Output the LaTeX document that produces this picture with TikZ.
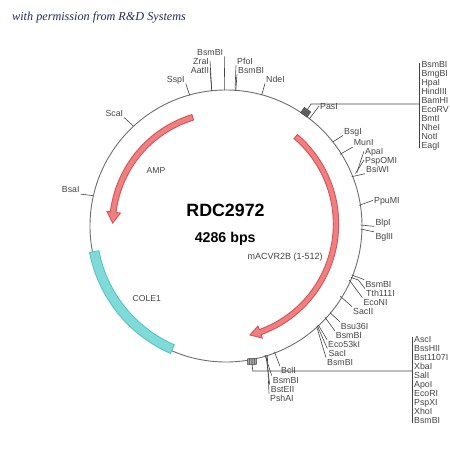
\documentclass[tikz,border=0pt]{standalone}
\usepackage{fontspec}
\usetikzlibrary{calc}
\setmainfont{Liberation Sans}
\newfontfamily\capfont{Liberation Serif}
\definecolor{inkc}{HTML}{444444}
\definecolor{ringc}{HTML}{6E6E6E}
\definecolor{capc}{HTML}{1F2D5C}
\definecolor{redf}{HTML}{EE8080}
\definecolor{redd}{HTML}{DD4F55}
\definecolor{cyanf}{HTML}{7FDAD8}
\definecolor{cyand}{HTML}{55C6C6}
\newcommand{\site}[5]{%
  \coordinate (#1-r) at (#2);
  \node[sitelabel,xshift=-1pt] (#1) at (#3) {#5};
  \draw[siteline] (#1-r) -- (#1.#4);}
\newcommand{\listlabel}[3]{\node[sitelabel,xshift=-1pt] (#1) at (#2) {#3};}
\tikzset{
  sitelabel/.style={anchor=west,font=\fontsize{8.8}{9}\selectfont,text=inkc,inner xsep=1pt,inner ysep=1pt,text height=6.4pt,text depth=0pt},
  siteline/.style={draw=inkc,line width=0.6pt},
  ringline/.style={draw=ringc,line width=0.9pt},
  redarc/.style={fill=redf,draw=redd,line width=0.9pt,line join=miter},
  cyanarc/.style={fill=cyanf,draw=cyand,line width=0.9pt},
  plainlabel/.style={font=\fontsize{8.6}{9}\selectfont,text=inkc,inner sep=0pt}
}
\begin{document}
\begin{tikzpicture}[x=1pt,y=-1pt]
\useasboundingbox (0,0) rectangle (450,450);
\coordinate (C) at (226,226);
\coordinate (CR) at (221,224);
\draw[ringline] (C) circle[radius=136pt];
% red features
\draw[redarc] ($(CR)+(49.5:117.7pt)$) arc[start angle=49.5,end angle=-70.1,radius=117.7pt]
  -- ($(CR)+(-70.1:121.3pt)$) -- ($(CR)+(-75.4:114.7pt)$) -- ($(CR)+(-70.1:108.6pt)$)
  -- ($(CR)+(-70.1:112.3pt)$) arc[start angle=-70.1,end angle=49.5,radius=112.3pt] -- cycle;
\draw[redarc] ($(C)+(107:116.5pt)$) arc[start angle=107,end angle=173,radius=116.5pt]
  -- ($(C)+(173:120pt)$) -- ($(C)+(178.5:113.3pt)$) -- ($(C)+(173:106.4pt)$)
  -- ($(C)+(173:110.8pt)$) arc[start angle=173,end angle=107,radius=110.8pt] -- cycle;
% cyan feature
\draw[cyanarc] ($(C)+(191:139pt)$) arc[start angle=191,end angle=246.5,radius=139pt]
  -- ($(C)+(246.5:129.5pt)$) arc[start angle=246.5,end angle=191,radius=129.5pt] -- cycle;
% captions
\node[anchor=west,inner sep=0pt,font=\capfont\itshape\fontsize{12.2}{13}\selectfont,text=capc] (perm) at (12,17.5) {with permission from R\&D Systems};
\node[font=\bfseries\fontsize{17.8}{18}\selectfont,inner sep=0pt] (title) at (225.5,210) {RDC2972};
\node[font=\bfseries\fontsize{14.2}{15}\selectfont,inner sep=0pt] (size) at (225.2,238.5) {4286 bps};
\node[plainlabel] (amp) at (156,170.5) {AMP};
\node[plainlabel] (cole) at (146.7,299) {COLE1};
\node[plainlabel,font=\fontsize{9}{10}\selectfont] (mac) at (285.2,256.7) {mACVR2B (1-512)};
% single sites
\site{bsmbia}{224.7,90}{197,52}{south east}{BsmBI}
\site{zrai}{211.7,90.5}{193,61}{east}{ZraI}
\site{aatii}{211.7,91}{190.7,70}{east}{AatII}
\site{sspi}{189.7,95.5}{166.7,79}{south east}{SspI}
\site{pfoi}{235,90.5}{237,61}{south west}{PfoI}
\site{bsmbib}{235.8,90.5}{238,70}{south west}{BsmBI}
\site{ndei}{261.7,95}{266,79}{south west}{NdeI}
\site{pasi}{309.3,119}{320,106}{west}{PasI}
\site{bsgi}{332.7,142}{344,131}{south west}{BsgI}
\site{muni}{340,154.3}{353.7,142.7}{south west}{MunI}
\site{apai}{356.7,172.7}{365,151.3}{west}{ApaI}
\site{pspomi}{355.5,173.5}{365,160}{west}{PspOMI}
\site{bsiwi}{351.7,176.7}{366,169.3}{south west}{BsiWI}
\site{ppumi}{359.3,205.3}{374,200.3}{west}{PpuMI}
\site{blpi}{360.7,225}{375.3,222}{south west}{BlpI}
\site{bglii}{360.7,229}{375.3,236.3}{north west}{BglII}
\site{bsmbic}{351.7,275}{365.3,284}{north west}{BsmBI}
\coordinate (tth-b) at (358.3,280);
\coordinate (tth-r) at (350.7,277.3);
\node[sitelabel,xshift=-1pt] (tth) at (366,293) {Tth111I};
\draw[siteline] (tth-r) -- (tth-b) -- (tth.north west);
\site{econi}{349.3,280}{363.3,302}{north west}{EcoNI}
\site{sacii}{340,296}{353,311}{north west}{SacII}
\site{bsu}{330,312.7}{340.7,326}{north west}{Bsu36I}
\site{bsmbid}{325,317.3}{335.7,335}{north west}{BsmBI}
\site{eco}{318.3,325}{328,344}{north west}{Eco53kI}
\site{saci}{317.3,325.7}{328.3,353}{north west}{SacI}
\site{bsmbie}{316.7,326.7}{327,362}{north west}{BsmBI}
\site{bcli}{274.3,351.7}{281,370.7}{north west}{BclI}
\site{bsmbif}{265,355}{272.7,380}{north west}{BsmBI}
\site{bsteii}{266,355.2}{270.7,389}{north west}{BstEII}
\site{pshai}{267.3,355.4}{270,398}{north west}{PshAI}
\site{scai}{133.3,126}{105.3,113.3}{south east}{ScaI}
\site{bsai}{93.3,195.7}{61.7,189.7}{south east}{BsaI}
% upper multi-site list
\node[draw=inkc,fill=inkc!85,line width=0.4pt,minimum width=8pt,minimum height=6.5pt,inner sep=0pt,rotate=-35] (upbox) at (305.7,112.3) {};
\coordinate (upbend) at (311,104);
\coordinate (uphub) at (419,104);
\coordinate (uptop) at (419,63);
\coordinate (upbot) at (419,148);
\draw[siteline] (upbox) -- (upbend) -- (uphub);
\draw[siteline] (uptop) -- (upbot);
\listlabel{ua}{421.3,64.3}{BsmBI}
\listlabel{ub}{421.3,73.3}{BmgBI}
\listlabel{uc}{421.3,82.3}{HpaI}
\listlabel{ud}{421.3,91.3}{HindIII}
\listlabel{ue}{421.3,100.3}{BamHI}
\listlabel{uf}{421.3,109.3}{EcoRV}
\listlabel{ug}{421.3,118.3}{BmtI}
\listlabel{uh}{421.3,127.3}{NheI}
\listlabel{ui}{421.3,136.3}{NotI}
\listlabel{uj}{421.3,145.3}{EagI}
% lower multi-site list
\node[draw=inkc,fill=inkc!45,line width=0.5pt,minimum width=9pt,minimum height=6pt,inner sep=0pt,rotate=4] (lowbox) at (252,361.5) {};
\draw[siteline] (249.5,358.3) -- (249.2,364.5) (252,358.5) -- (252,364.7) (254.5,358.5) -- (254.8,364.7);
\coordinate (lowbend) at (252.7,371);
\coordinate (lowhub) at (412.3,371);
\coordinate (lowtop) at (412.3,337);
\coordinate (lowbot) at (412.3,423);
\draw[siteline] (lowbox) -- (lowbend) -- (lowhub);
\draw[siteline] (lowtop) -- (lowbot);
\listlabel{la}{414,339.3}{AscI}
\listlabel{lb}{414,348.3}{BssHII}
\listlabel{lc}{414,357.3}{Bst1107I}
\listlabel{ld}{414,366.3}{XbaI}
\listlabel{le}{414,375.3}{SalI}
\listlabel{lf}{414,384.3}{ApoI}
\listlabel{lg}{414,393.3}{EcoRI}
\listlabel{lh}{414,402.3}{PspXI}
\listlabel{li}{414,411.3}{XhoI}
\listlabel{lj}{414,420.3}{BsmBI}
\end{tikzpicture}
\end{document}
